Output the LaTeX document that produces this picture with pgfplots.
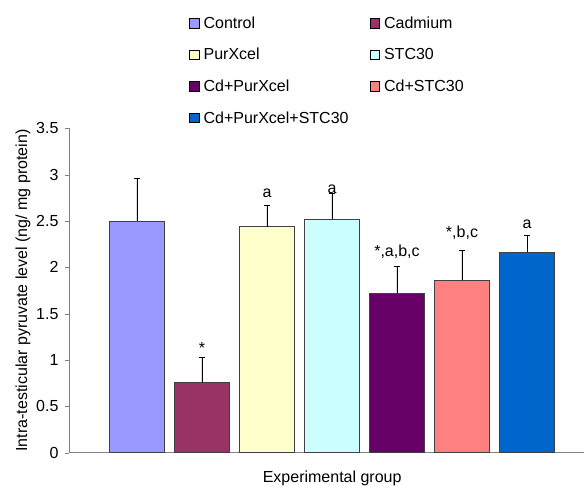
\documentclass[border=0pt]{standalone}
\usepackage{pgfplots}
\pgfplotsset{compat=1.18}
\usepackage{fontspec}
\setmainfont{Liberation Sans}
\definecolor{cControl}{HTML}{9999FF}
\definecolor{cCad}{HTML}{993366}
\definecolor{cPur}{HTML}{FFFFCC}
\definecolor{cSTC}{HTML}{CCFFFF}
\definecolor{cCdPur}{HTML}{660066}
\definecolor{cCdSTC}{HTML}{FF8080}
\definecolor{cAll}{HTML}{0066CC}
\definecolor{axgray}{HTML}{808080}
\definecolor{edge}{HTML}{404040}
\newcommand{\fs}{\fontsize{16pt}{18pt}\selectfont}
\begin{document}
\begin{tikzpicture}[x=1pt,y=1pt]
\useasboundingbox (-69,-33.3) rectangle (515,452.7);
\begin{axis}[
  at={(0,0)}, anchor=south west,
  scale only axis, width=515pt, height=324.4pt,
  xmin=-1.046, xmax=6.877, ymin=0, ymax=3.5,
  axis x line=bottom, axis y line=left,
  axis line style={axgray, -},
  xtick=\empty,
  ytick={0,0.5,1,1.5,2,2.5,3,3.5},
  yticklabels={0,0.5,1,1.5,2,2.5,3,3.5},
  tick align=outside, major tick length=4pt,
  tick style={axgray},
  yticklabel style={font=\fs, xshift=-3pt},
  ylabel={Intra-testicular pyruvate level (ng/ mg protein)},
  xlabel={Experimental group},
  every axis y label/.style={at={(axis description cs:-0.0893,0.5)}, rotate=90, anchor=center, font=\fs},
  every axis x label/.style={at={(axis description cs:0.511,-0.0925)}, anchor=base, font=\fs},
  ybar, bar width=54.5pt, bar shift=0pt,
  every axis plot/.append style={draw=edge, line width=0.6pt},
  error bars/y dir=plus, error bars/y explicit,
  error bars/error mark options={rotate=90, mark size=3.3pt, black, line width=0.6pt},
  error bars/error bar style={black, line width=0.6pt},
  legend columns=2,
  legend style={at={(axis description cs:0.227,1.357)}, anchor=north west, draw=none, fill=none,
    font=\fs, row sep=14.5pt,
    /tikz/every odd column/.append style={column sep=2.5pt},
    /tikz/every even column/.append style={column sep=19pt}},
  legend cell align=left,
  legend image code/.code={\draw[#1, line width=0.6pt, draw=black] (0pt,-4.7pt) rectangle (9.4pt,4.7pt);},
]
\addplot[fill=cControl] coordinates {(0,2.50) +- (0,0.46)};
\addplot[fill=cCad] coordinates {(1,0.755) +- (0,0.275)};
\addplot[fill=cPur] coordinates {(2,2.44) +- (0,0.23)};
\addplot[fill=cSTC] coordinates {(3,2.52) +- (0,0.28)};
\addplot[fill=cCdPur] coordinates {(4,1.72) +- (0,0.29)};
\addplot[fill=cCdSTC] coordinates {(5,1.86) +- (0,0.32)};
\addplot[fill=cAll] coordinates {(6,2.16) +- (0,0.19)};
\legend{Control,Cadmium,PurXcel,STC30,Cd+PurXcel,Cd+STC30,Cd+PurXcel+STC30}
\node[anchor=base, font=\fs, inner sep=0pt] at (axis cs:1,1.07) {*};
\node[anchor=base, font=\fs, inner sep=0pt] at (axis cs:2,2.755) {a};
\node[anchor=base, font=\fs, inner sep=0pt] at (axis cs:3,2.80) {a};
\node[anchor=base, font=\fs, inner sep=0pt] at (axis cs:4,2.12) {*,a,b,c};
\node[anchor=base, font=\fs, inner sep=0pt] at (axis cs:5,2.32) {*,b,c};
\node[anchor=base, font=\fs, inner sep=0pt] at (axis cs:6,2.42) {a};
\end{axis}
\end{tikzpicture}
\end{document}
